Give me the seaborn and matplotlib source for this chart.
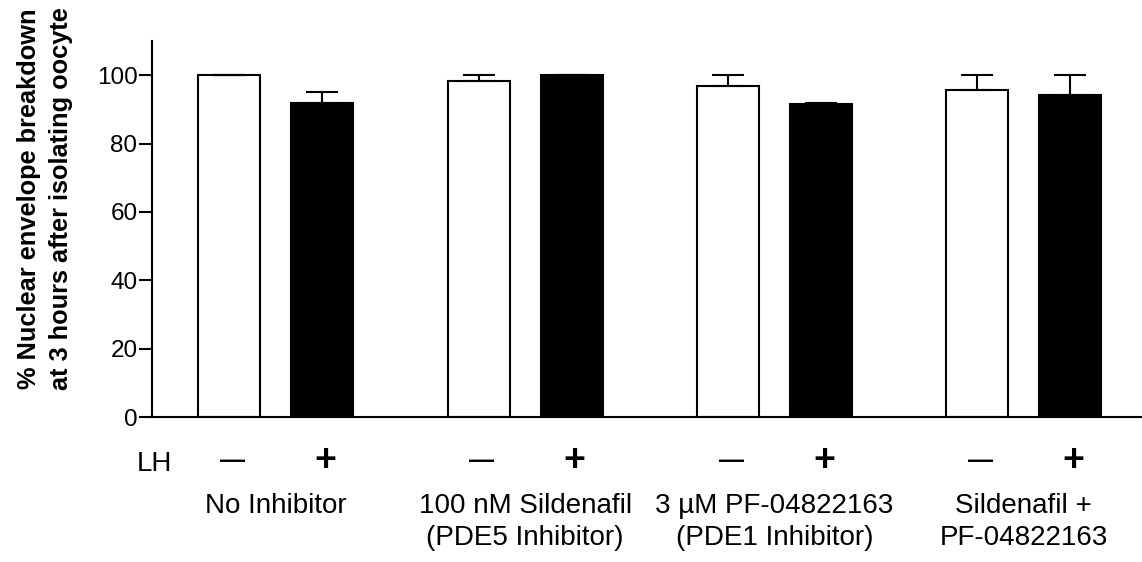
import numpy as np
import pandas as pd
import seaborn as sns
import matplotlib
matplotlib.use("Agg")
import matplotlib.pyplot as plt

groups = ["No Inhibitor", "100 nM Sildenafil\n(PDE5 Inhibitor)",
          "3 µM PF-04822163\n(PDE1 Inhibitor)", "Sildenafil +\nPF-04822163"]
lh_levels = ["−", "+"]
minus_vals = [100, 98.4, 96.9, 95.8]
minus_err = [0, 1.6, 3.1, 4.2]
plus_vals = [91.8, 100, 91.5, 94.1]
plus_err = [3.2, 0, 0.4, 5.9]
y_ticks = [0, 20, 40, 60, 80, 100]
y_label = "% Nuclear envelope breakdown\nat 3 hours after isolating oocyte"

df = pd.DataFrame({
    "group": groups * 2,
    "LH": [lh_levels[0]] * len(groups) + [lh_levels[1]] * len(groups),
    "value": minus_vals + plus_vals,
})

sns.set_style("ticks", {"axes.edgecolor": "black", "text.color": "black",
                        "xtick.color": "black", "ytick.color": "black",
                        "axes.labelcolor": "black"})
plt.rcParams["font.family"] = ["Liberation Sans", "DejaVu Sans"]

W, H = 1142, 562
fig = plt.figure(figsize=(W / 100, H / 100), dpi=100)
ax = fig.add_axes([152 / W, (H - 417) / H, (W - 152) / W, 376 / H])

sns.barplot(data=df, x="group", y="value", hue="LH", order=groups,
            hue_order=lh_levels, palette={"−": "white", "+": "black"},
            edgecolor="black", linewidth=1.5, width=0.746, gap=0.333,
            errorbar=None, legend=False, ax=ax)

# upward-only error bars, like the original
for cont, err in zip(ax.containers, [minus_err, plus_err]):
    xs = [p.get_x() + p.get_width() / 2 for p in cont]
    ys = [p.get_height() for p in cont]
    ax.errorbar(xs, ys, yerr=[np.zeros(len(err)), err], fmt="none",
                ecolor="black", elinewidth=1.5, capsize=11.5, capthick=1.5,
                zorder=1)

ax.set_xlim(-0.497, 3.474)
ax.set_ylim(0, 110)
ax.set_yticks(y_ticks)
ax.set_ylabel("")
ax.set_xlabel("")
sns.despine(ax=ax)
for s in ["left", "bottom"]:
    ax.spines[s].set_linewidth(1.5)
ax.tick_params(axis="y", labelsize=17.5, length=9.5, width=1.5, pad=1)
ax.tick_params(axis="x", labelsize=20, length=0, pad=55)
for t in ax.get_xticklabels():
    t.set_linespacing(1.3)

# LH - / + row under the bars
trans = ax.get_xaxis_transform()
y_sign = -(471 - 417) / 376
y_dash = -(468 - 417) / 376
ax.text(-0.489, y_sign, "LH", transform=trans, ha="center", va="baseline",
        fontsize=20)
for cont, sym in zip(ax.containers, lh_levels):
    for p in cont:
        xc = p.get_x() + p.get_width() / 2 + 0.012
        if sym == "+":
            ax.text(xc, y_sign, "+", transform=trans, ha="center",
                    va="baseline", fontsize=27, fontweight="bold")
        else:
            ax.text(xc, y_dash, "—", transform=trans, ha="center",
                    va="baseline", fontsize=18, fontweight="bold")

fig.text(45 / W, 1 - 199 / H, y_label, rotation=90, ha="center", va="center",
         fontsize=18.3, fontweight="bold", linespacing=1.38,
         multialignment="center")

fig.savefig("out.png", dpi=100)
